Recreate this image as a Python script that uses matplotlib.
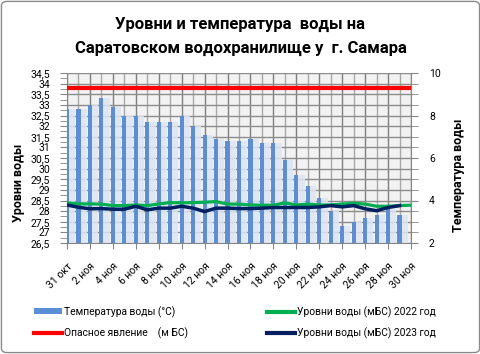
import numpy as np
import matplotlib
matplotlib.use("Agg")
import matplotlib.pyplot as plt
from matplotlib.patches import Patch, FancyBboxPatch
from matplotlib.lines import Line2D
from matplotlib.ticker import MultipleLocator

plt.rcParams['font.family'] = ['Roboto', 'DejaVu Sans']

# ---- data ----
days = ["31 окт"] + [f"{d} ноя" for d in range(1, 31)]
temp = [8.3, 8.3, 8.5, 8.8, 8.4, 8.0, 8.0, 7.7, 7.7, 7.7, 8.0, 7.5, 7.1, 6.9, 6.8,
        6.8, 6.9, 6.7, 6.7, 5.9, 5.2, 4.7, 4.1, 3.5, 2.8, 3.0, 3.2, 3.3, 3.6, 3.3, np.nan]
danger = [33.8] * 31
level_2022 = [28.39, 28.34, 28.34, 28.33, 28.26, 28.26, 28.29, 28.26, 28.34, 28.40,
              28.39, 28.40, 28.42, 28.45, 28.33, 28.33, 28.29, 28.28, 28.28, 28.39,
              28.29, 28.33, 28.29, 28.29, 28.33, 28.37, 28.33, 28.23, 28.23, 28.26, 28.28]
level_2023 = [28.29, 28.18, 28.11, 28.12, 28.09, 28.09, 28.23, 28.06, 28.14, 28.14,
              28.23, 28.14, 27.98, 28.14, 28.14, 28.12, 28.12, 28.14, 28.17, 28.17,
              28.17, 28.17, 28.20, 28.26, 28.20, 28.26, 28.11, 28.02, 28.17, 28.26, np.nan]

x = np.arange(len(days))

fig = plt.figure(figsize=(4.81, 3.54), dpi=100)
fig.patch.set_facecolor('white')
fig.patches.append(FancyBboxPatch((0.003, 0.004), 0.994, 0.992,
                                  boxstyle="round,pad=0,rounding_size=0.012",
                                  transform=fig.transFigure, facecolor='none',
                                  edgecolor='#8a8a8a', linewidth=1.0))

L, R, B, T = 67/481, 411/481, 1-243/354, 1-73/354
ax_t = fig.add_axes([L, B, R-L, T-B])   # temperature (bars), right side
ax_l = ax_t.twinx()                      # levels (lines), left side

ax_t.set_facecolor('#f2f2f2')
ax_t.set_xlim(0, 30)
ax_t.set_ylim(2, 10)
ax_l.set_ylim(26.5, 34.5)

# grid (on bottom axes)
for i in x:
    ax_t.axvline(i, color='#7f7f7f' if i % 2 == 0 else '#a8a8a8', lw=1.0, zorder=0.5)
for v in np.arange(2, 10.01, 0.5):
    ax_t.axhline(v, color='#8c8c8c', lw=1.0, zorder=0.5)

# bars: halo + solid
ax_t.bar(x + 0.17, temp, width=0.55, align='edge', color='#dfe6f2', alpha=0.85,
         zorder=1, linewidth=0)
ax_t.bar(x, temp, width=0.36, color='#5a8fd7', zorder=2, linewidth=0)

# lines
ax_l.plot(x, danger, color='#ff0000', lw=3.0, solid_capstyle='butt', zorder=3)
ax_l.plot(x, level_2022, color='#00b050', lw=2.3, zorder=3)
ax_l.plot(x, level_2023, color='#002060', lw=2.5, zorder=4)

# axes styling
for a in (ax_t, ax_l):
    for s in a.spines.values():
        s.set_visible(False)
ax_t.spines['bottom'].set_visible(True)
ax_t.spines['bottom'].set_color('#868686')
ax_l.spines['left'].set_visible(True)
ax_l.spines['left'].set_color('#868686')
ax_t.spines['right'].set_visible(True)
ax_t.spines['right'].set_color('#868686')

ax_t.yaxis.tick_right()
ax_t.yaxis.set_major_locator(MultipleLocator(2))
ax_t.yaxis.set_minor_locator(MultipleLocator(0.5))
ax_t.tick_params(axis='y', which='major', right=True, left=False, direction='out',
                 length=5, color='#868686', labelsize=7.5, pad=8)
ax_t.tick_params(axis='y', which='minor', right=True, left=False, direction='out',
                 length=5, color='#868686')

ax_l.yaxis.tick_left()
ax_l.yaxis.set_major_locator(MultipleLocator(0.5))
ax_l.yaxis.set_minor_locator(MultipleLocator(0.25))
ax_l.yaxis.set_major_formatter(matplotlib.ticker.FuncFormatter(
    lambda v, p: (f"{v:g}").replace('.', ',')))
ax_l.tick_params(axis='y', which='major', left=True, right=False, direction='out',
                 length=5, color='#868686', labelsize=7.5, pad=7)
ax_l.tick_params(axis='y', which='minor', left=True, right=False, direction='out',
                 length=5, color='#868686')

ax_t.set_xticks(x[::2])
ax_t.set_xticklabels(days[::2], rotation=45, ha='right', va='top',
                     rotation_mode='anchor', fontsize=7.5)
ax_t.tick_params(axis='x', direction='out', length=4, color='#868686', pad=9)
ax_l.set_xlim(0, 30)

# titles / labels
fig.text(0.5, 1-24/354, "Уровни и температура  воды на", ha='center', va='center',
         fontsize=12, fontweight='bold')
fig.text(0.5, 1-48/354, "Саратовском водохранилище у  г. Самара", ha='center',
         va='center', fontsize=12, fontweight='bold')
fig.text(19/481, 1-183/354, "Уровни воды", rotation=90, ha='center', va='center',
         fontsize=9, fontweight='bold')
fig.text(459/481, 1-175/354, "Температура воды", rotation=90, ha='center',
         va='center', fontsize=9, fontweight='bold')

# legend
h_temp = Patch(facecolor='#5a8fd7', edgecolor='none')
h_red = Line2D([], [], color='#ff0000', lw=3.0)
h_g = Line2D([], [], color='#00b050', lw=3.0)
h_n = Line2D([], [], color='#002060', lw=3.0)
kw = dict(frameon=False, fontsize=7.4, handlelength=2.7, handletextpad=0.25,
          labelspacing=1.0, borderpad=0, borderaxespad=0, handleheight=0.55)
leg1 = fig.legend([h_temp, h_red], ["Температура воды (°C)", "Опасное явление    (м БС)"],
                  loc='upper left', bbox_to_anchor=(34/481, 1-306/354), **kw)
leg2 = fig.legend([h_g, h_n], ["Уровни воды (мБС) 2022 год", "Уровни воды (мБС) 2023 год"],
                  loc='upper left', bbox_to_anchor=(267/481, 1-306/354), **kw)

fig.savefig("out.png", dpi=100, facecolor='white')
